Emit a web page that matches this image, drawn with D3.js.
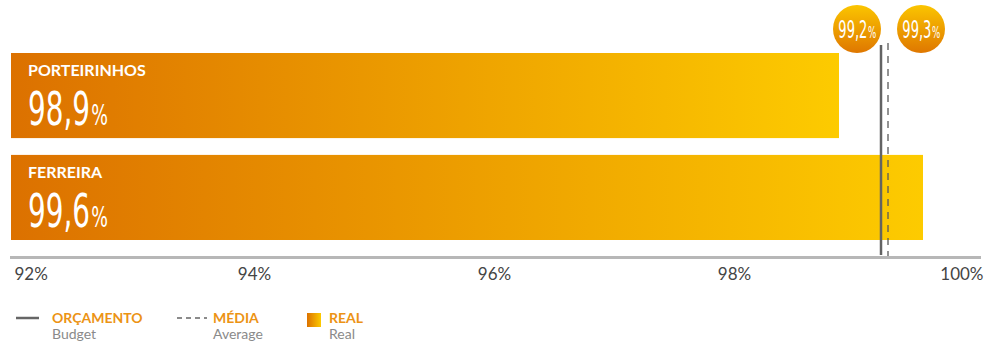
<!DOCTYPE html>
<html>
<head>
<meta charset="utf-8">
<script src="https://cdn.jsdelivr.net/npm/d3@7"></script>
<style>
  html, body { margin: 0; padding: 0; background: #fff; }
  svg { display: block; }
</style>
</head>
<body>
<svg id="chart" width="1000" height="343"></svg>
<script>
// Water-supply index by unit (%)
const units = ["PORTEIRINHOS", "FERREIRA"];
const realValues = [98.9, 99.6];
const budgetValue = 99.2;
const averageValue = 99.3;
const tickValues = [92, 94, 96, 98, 100];
const tickLabels = ["92%", "94%", "96%", "98%", "100%"];
const legendTitles = ["ORÇAMENTO", "MÉDIA", "REAL"];
const legendSubtitles = ["Budget", "Average", "Real"];

const fmt = v => v.toFixed(1).replace(".", ",");
const condensed = "'Liberation Sans Narrow', 'DejaVu Sans Condensed', sans-serif";

const svg = d3.select("#chart");
const defs = svg.append("defs");

const barGrad = defs.append("linearGradient")
  .attr("id", "barGrad").attr("x1", 0).attr("x2", 1).attr("y1", 0).attr("y2", 0);
barGrad.append("stop").attr("offset", "0%").attr("stop-color", "#dc7100");
barGrad.append("stop").attr("offset", "100%").attr("stop-color", "#fdcb00");

const bubbleGrad = defs.append("linearGradient")
  .attr("id", "bubbleGrad").attr("x1", 0).attr("x2", 0).attr("y1", 0).attr("y2", 1);
bubbleGrad.append("stop").attr("offset", "0%").attr("stop-color", "#fbc500");
bubbleGrad.append("stop").attr("offset", "100%").attr("stop-color", "#df7700");

const x = d3.scaleLinear().domain([92, 100]).range([11, 971]);
const y = d3.scaleBand().domain(units).range([53, 240]).paddingInner(0.165);

// Squeeze a text element horizontally so that its number part gets a given width
function squeeze(sel, numWidth, tx, ty, anchorMiddle) {
  sel.each(function () {
    const t = d3.select(this);
    const w = t.select("tspan.num").node().getComputedTextLength();
    const full = this.getComputedTextLength();
    const k = numWidth / w;
    const ox = anchorMiddle ? -full * k / 2 : 0;
    t.attr("transform", `translate(${tx + ox}, ${ty(t.datum())}) scale(${k}, 1)`);
  });
}

// Bars
const bars = svg.append("g").selectAll("g")
  .data(units.map((u, i) => ({ unit: u, value: realValues[i] })))
  .join("g");

bars.append("rect")
  .attr("x", x(92))
  .attr("y", d => y(d.unit))
  .attr("width", d => x(d.value) - x(92))
  .attr("height", y.bandwidth())
  .attr("fill", "url(#barGrad)");

bars.append("text")
  .attr("x", 28)
  .attr("y", d => y(d.unit) + 23)
  .attr("fill", "#fff")
  .attr("font-family", "Lato, sans-serif")
  .attr("font-weight", 700)
  .attr("font-size", 16)
  .text(d => d.unit);

const big = bars.append("text")
  .attr("fill", "#fff")
  .attr("font-family", condensed)
  .attr("font-size", 46);
big.append("tspan").attr("class", "num").text(d => fmt(d.value));
big.append("tspan").attr("font-size", 29).attr("dx", 2).text("%");
squeeze(big, 62, 28, d => y(d.unit) + 72, false);

// Axis baseline
svg.append("line")
  .attr("x1", 10).attr("x2", 981)
  .attr("y1", 257.5).attr("y2", 257.5)
  .attr("stroke", "#b7b7b7").attr("stroke-width", 3);

// Tick labels
const axis = d3.axisBottom(x).tickValues(tickValues)
  .tickFormat((d, i) => tickLabels[i]).tickSize(0).tickPadding(0);
const gAxis = svg.append("g").attr("transform", "translate(0, 280)").call(axis);
gAxis.select(".domain").remove();
gAxis.selectAll("text")
  .attr("dy", 0)
  .attr("fill", "#444")
  .attr("font-family", "Lato, sans-serif")
  .attr("font-weight", 400)
  .attr("font-size", 17)
  .attr("dx", 3)
  .attr("text-anchor", (d, i) => i === 0 ? "start" : (i === tickValues.length - 1 ? "end" : "middle"))
  .filter((d, i) => i === tickValues.length - 1).attr("dx", 12);

// Budget (solid) and average (dashed) reference lines
const xb = x(budgetValue) + 6;
const xa = x(averageValue) + 1;
svg.append("line")
  .attr("x1", xb).attr("x2", xb).attr("y1", 45).attr("y2", 255)
  .attr("stroke", "#636363").attr("stroke-width", 2.5);
svg.append("line")
  .attr("x1", xa).attr("x2", xa).attr("y1", 43).attr("y2", 256)
  .attr("stroke", "#5a5a5a").attr("stroke-width", 1.3)
  .attr("stroke-dasharray", "7,6");

// Value bubbles
const r = 24;
const bubbles = [
  { cx: xb - r, value: budgetValue },
  { cx: xa + r + 9, value: averageValue }
];
const gb = svg.append("g").selectAll("g").data(bubbles).join("g")
  .attr("transform", d => `translate(${d.cx}, 29)`);
gb.append("circle").attr("r", r).attr("fill", "url(#bubbleGrad)");
const bt = gb.append("text")
  .attr("fill", "#fff")
  .attr("font-family", condensed)
  .attr("font-size", 24);
bt.append("tspan").attr("class", "num").text(d => fmt(d.value));
bt.append("tspan").attr("font-size", 16).attr("dx", 1).text("%");
squeeze(bt, 29, 0, () => 9, true);

// Legend
const legend = svg.append("g");
legend.append("line").attr("x1", 16).attr("x2", 39).attr("y1", 318).attr("y2", 318)
  .attr("stroke", "#666").attr("stroke-width", 2.5);
legend.append("line").attr("x1", 177).attr("x2", 207).attr("y1", 318).attr("y2", 318)
  .attr("stroke", "#666").attr("stroke-width", 1.3).attr("stroke-dasharray", "5,4");
legend.append("rect").attr("x", 307).attr("y", 313).attr("width", 14).attr("height", 14)
  .attr("fill", "url(#barGrad)");
const legendX = [52, 213, 329];
legendTitles.forEach((t, i) => {
  legend.append("text").attr("x", legendX[i]).attr("y", 323)
    .attr("fill", "#ec9315").attr("font-family", "Lato, sans-serif")
    .attr("font-weight", 700).attr("font-size", 14).text(t);
  legend.append("text").attr("x", legendX[i]).attr("y", 339)
    .attr("fill", "#8a8a8a").attr("font-family", "Lato, sans-serif")
    .attr("font-size", 14).text(legendSubtitles[i]);
});
</script>
</body>
</html>
